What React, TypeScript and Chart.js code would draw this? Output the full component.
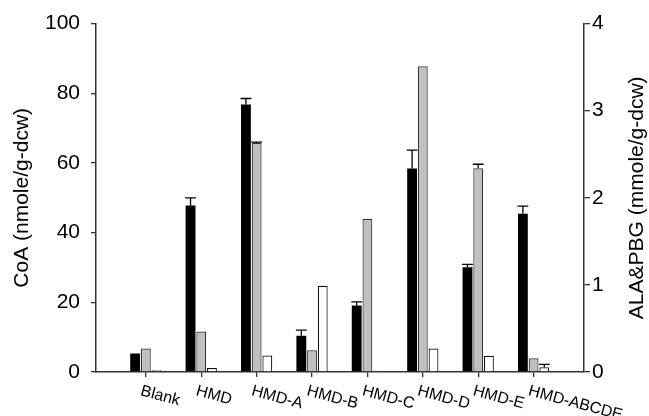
import React, { useEffect, useRef } from 'react';
import { Chart, registerables } from 'chart.js';

Chart.register(...registerables);

const categories = ['Blank', 'HMD', 'HMD-A', 'HMD-B', 'HMD-C', 'HMD-D', 'HMD-E', 'HMD-ABCDE'];
const coaValues = [5.3, 47.8, 76.8, 10.4, 19.1, 58.4, 30.1, 45.4];
const coaErrors = [0, 2.2, 1.7, 1.6, 1.0, 5.3, 0.8, 2.2];
const alaValues = [0.27, 0.465, 2.63, 0.25, 1.76, 3.51, 2.34, 0.157];
const alaErrors = [0, 0, 0.01, 0, 0, 0, 0.045, 0];
const pbgValues = [0.02, 0.046, 0.19, 0.99, 0.015, 0.27, 0.186, 0.054];
const pbgErrors = [0, 0, 0, 0, 0, 0, 0, 0.034];
const leftTitle = 'CoA (nmole/g-dcw)';
const rightTitle = 'ALA&PBG (mmole/g-dcw)';

const FONT = '"Liberation Sans", Arial, Helvetica, sans-serif';

const errorBarsPlugin = {
  id: 'errorBars',
  afterDatasetsDraw(chart: any) {
    const ctx = chart.ctx;
    chart.data.datasets.forEach((ds: any, di: number) => {
      const errs = ds.errors;
      if (!errs) return;
      const meta = chart.getDatasetMeta(di);
      const scale = chart.scales[ds.yAxisID];
      meta.data.forEach((bar: any, i: number) => {
        const e = errs[i];
        if (!e) return;
        const v = ds.data[i].y;
        const yTop = scale.getPixelForValue(v + e);
        const yBar = scale.getPixelForValue(v);
        const half = bar.width / 2 + 0.5;
        ctx.save();
        ctx.strokeStyle = '#000';
        ctx.lineWidth = 1.3;
        ctx.beginPath();
        ctx.moveTo(bar.x, yBar);
        ctx.lineTo(bar.x, yTop);
        ctx.moveTo(bar.x - half, yTop);
        ctx.lineTo(bar.x + half, yTop);
        ctx.stroke();
        ctx.restore();
      });
    });
  },
};

const textPlugin = {
  id: 'customText',
  afterDraw(chart: any) {
    const ctx = chart.ctx;
    const xs = chart.scales.x;
    const area = chart.chartArea;
    ctx.save();
    ctx.fillStyle = '#000';
    ctx.font = `16px ${FONT}`;
    ctx.textAlign = 'left';
    ctx.textBaseline = 'alphabetic';
    categories.forEach((c, i) => {
      const px = xs.getPixelForValue(i);
      ctx.save();
      ctx.translate(px - 6, 395);
      ctx.rotate((15 * Math.PI) / 180);
      ctx.fillText(c, 0, 0);
      ctx.restore();
    });
    const cy = (area.top + area.bottom) / 2;
    ctx.font = `21px ${FONT}`;
    ctx.textAlign = 'center';
    ctx.textBaseline = 'middle';
    ctx.save();
    ctx.translate(22, cy);
    ctx.rotate(-Math.PI / 2);
    ctx.fillText(leftTitle, 0, 0);
    ctx.restore();
    ctx.save();
    ctx.translate(637, cy);
    ctx.rotate(-Math.PI / 2);
    ctx.fillText(rightTitle, 0, 0);
    ctx.restore();
    ctx.restore();
  },
};

export default function App() {
  const ref = useRef<HTMLCanvasElement>(null);
  useEffect(() => {
    if (!ref.current) return;
    const toXY = (arr: number[]) => arr.map((v, i) => ({ x: i, y: v }));
    const chart = new Chart(ref.current, {
      type: 'bar',
      data: {
        datasets: [
          {
            label: 'CoA',
            data: toXY(coaValues),
            backgroundColor: '#000000',
            borderColor: '#000000',
            borderWidth: 0,
            yAxisID: 'y',
            errors: coaErrors,
          } as any,
          {
            label: 'ALA',
            data: toXY(alaValues),
            backgroundColor: '#c0c0c0',
            borderColor: '#333333',
            borderWidth: 1.2,
            yAxisID: 'y1',
            errors: alaErrors,
          } as any,
          {
            label: 'PBG',
            data: toXY(pbgValues),
            backgroundColor: '#ffffff',
            borderColor: '#111111',
            borderWidth: 1.2,
            yAxisID: 'y1',
            errors: pbgErrors,
          } as any,
        ],
      },
      options: {
        responsive: false,
        animation: false,
        categoryPercentage: 0.58,
        barPercentage: 0.92,
        layout: { padding: { top: 22, left: 0, right: 0, bottom: 0 } },
        plugins: { legend: { display: false }, tooltip: { enabled: false } },
        scales: {
          x: {
            type: 'linear',
            offset: false,
            min: -0.9,
            max: 7.91,
            bounds: 'data',
            afterBuildTicks: (scale: any) => {
              scale.ticks = categories.map((_, i) => ({ value: i }));
            },
            afterFit: (scale: any) => {
              scale.height = 44;
            },
            ticks: { display: false, autoSkip: false },
            grid: {
              offset: false,
              drawOnChartArea: false,
              drawTicks: true,
              tickLength: 5,
              color: '#333333',
              lineWidth: 1.3,
            },
            border: { display: true, color: '#333333', width: 1.5 },
          },
          y: {
            type: 'linear',
            position: 'left',
            min: 0,
            max: 100,
            afterFit: (scale: any) => {
              scale.width = 96;
            },
            ticks: {
              stepSize: 20,
              color: '#000',
              padding: 11,
              font: { family: FONT, size: 21 },
            },
            grid: {
              drawOnChartArea: false,
              drawTicks: true,
              tickLength: 5,
              color: '#333333',
              lineWidth: 1.3,
            },
            border: { display: true, color: '#333333', width: 1.5 },
          },
          y1: {
            type: 'linear',
            position: 'right',
            min: 0,
            max: 4,
            afterFit: (scale: any) => {
              scale.width = 65;
            },
            ticks: {
              stepSize: 1,
              color: '#000',
              padding: 2,
              font: { family: FONT, size: 21 },
            },
            grid: {
              drawOnChartArea: false,
              drawTicks: true,
              tickLength: 6,
              color: '#333333',
              lineWidth: 1.3,
            },
            border: { display: true, color: '#333333', width: 1.5 },
          },
        },
      },
      plugins: [errorBarsPlugin, textPlugin],
    } as any);
    return () => chart.destroy();
  }, []);
  return (
    <div style={{ position: 'absolute', left: 0, top: 0, width: 649, height: 416, background: '#fff' }}>
      <canvas ref={ref} width={649} height={416} style={{ display: 'block' }} />
    </div>
  );
}
